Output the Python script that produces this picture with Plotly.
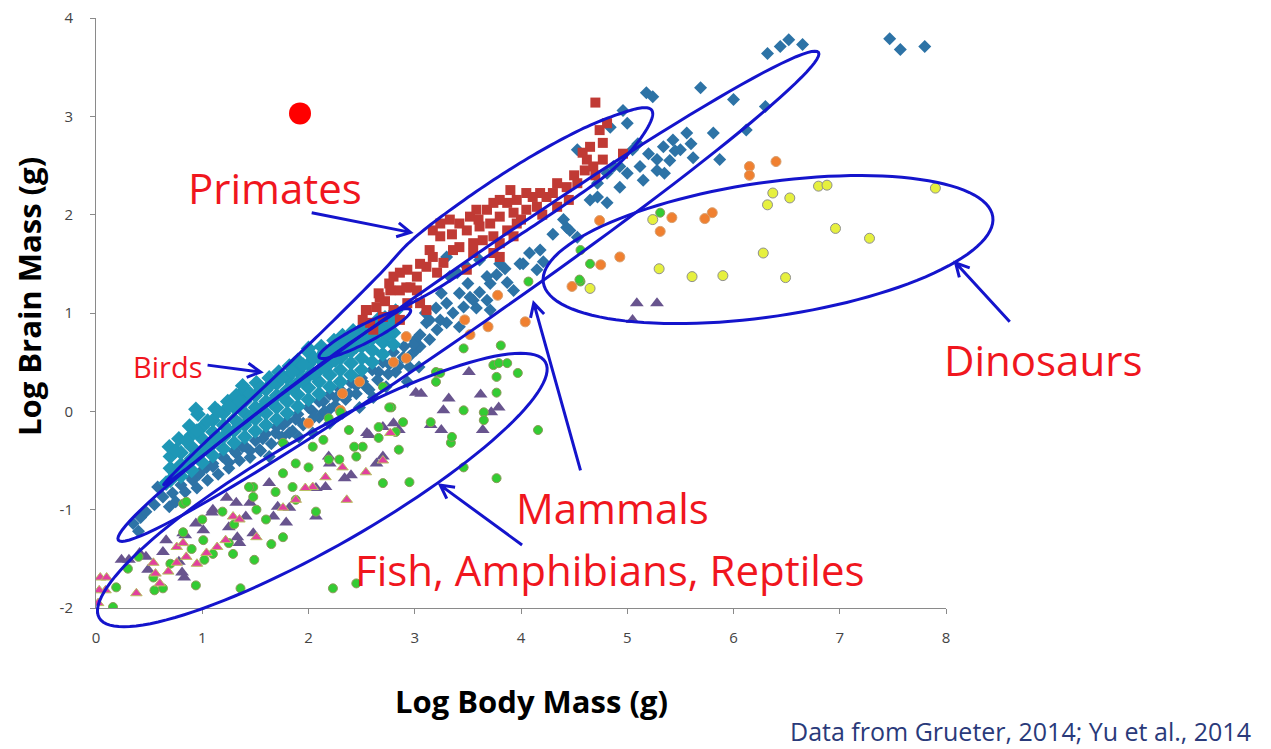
import numpy as np
import plotly.graph_objects as go

# ------------------------------------------------------------------ data
# (log10 body mass g, log10 brain mass g)
mammals = [
    (0.35, -1.14), (0.42, -1.08), (0.47, -1.02), (0.40, -1.22), (0.55, -0.95), (0.58, -0.77),
    (0.63, -0.87), (0.69, -0.97), (0.72, -0.83), (0.75, -0.92), (0.80, -0.75), (0.84, -0.82),
    (0.91, -0.70), (0.97, -0.64), (1.04, -0.57), (1.10, -0.56), (1.19, -0.46), (1.25, -0.52),
    (1.32, -0.43), (1.38, -0.36), (1.45, -0.40), (1.54, -0.39), (1.57, -0.28), (1.63, -0.46),
    (1.69, -0.22), (1.76, -0.14), (1.76, -0.32), (1.82, -0.22), (1.88, -0.08), (1.91, -0.26),
    (1.95, -0.14), (2.04, 0.00), (2.04, -0.22), (2.10, -0.06), (2.14, 0.10), (2.20, 0.02),
    (2.20, -0.12), (2.26, 0.14), (2.32, -0.02), (2.38, 0.18), (2.45, 0.26), (2.48, 0.04),
    (2.51, 0.30), (2.57, 0.22), (2.61, 0.14), (2.66, 0.40), (2.73, 0.25), (2.76, 0.48),
    (2.82, 0.40), (2.89, 0.55), (2.95, 0.45), (3.01, 0.62), (3.04, 0.45), (2.93, 0.30),
    (0.90, -0.68), (1.00, -0.60), (1.10, -0.53), (1.20, -0.46), (1.30, -0.40), (1.40, -0.35),
    (1.50, -0.30), (1.60, -0.23), (1.70, -0.16), (1.80, -0.10), (1.90, -0.03), (2.00, 0.04),
    (2.10, 0.10), (2.20, 0.17), (2.30, 0.22), (2.40, 0.29), (2.50, 0.34), (2.60, 0.42),
    (2.70, 0.50), (2.80, 0.60), (2.90, 0.66), (3.00, 0.72),
    (0.95, -0.78), (1.05, -0.70), (1.15, -0.64), (1.25, -0.58), (1.35, -0.50), (1.45, -0.47),
    (1.55, -0.40), (1.65, -0.33), (1.75, -0.26), (1.85, -0.20), (1.95, -0.12), (2.05, -0.06),
    (2.15, 0.00), (2.25, 0.06), (2.35, 0.12), (2.45, 0.18), (2.55, 0.24), (2.65, 0.32),
    (2.75, 0.38), (2.85, 0.46), (2.95, 0.56), (3.05, 0.66),
    (2.99, 0.68), (3.05, 0.78), (3.14, 0.73), (3.14, 0.93), (3.21, 0.83), (3.30, 0.90),
    (3.42, 0.86), (3.36, 1.00), (3.46, 1.06), (3.52, 1.16), (3.58, 1.05), (3.61, 1.21),
    (3.68, 1.13), (3.71, 1.03), (3.71, 1.30), (3.77, 1.39), (3.87, 1.31), (3.93, 1.23),
    (4.02, 1.50), (4.08, 1.61), (4.18, 1.64), (4.21, 1.52), (4.15, 1.44), (3.99, 1.50),
    (3.80, 1.50), (3.68, 1.37), (3.55, 1.13), (3.42, 1.20), (3.30, 1.10), (3.24, 0.93),
    (3.11, 0.90), (3.61, 1.54), (3.49, 1.47), (3.40, 1.41), (3.30, 1.57), (3.33, 1.37),
    (3.20, 1.05), (3.10, 1.00), (3.25, 1.20), (3.50, 1.30), (3.85, 1.45),
    (4.43, 1.87), (4.40, 1.95), (4.46, 1.84), (4.53, 1.77), (4.30, 1.80), (4.53, 2.66),
    (4.65, 2.15), (4.72, 2.32), (4.81, 2.42), (4.93, 2.49), (5.00, 2.93), (4.84, 2.89),
    (4.96, 3.06), (4.81, 2.12), (4.72, 2.18), (4.93, 2.28), (5.00, 2.42), (5.12, 2.49),
    (5.28, 2.56), (5.34, 2.69), (5.43, 2.76), (5.56, 2.83), (5.50, 2.66), (5.28, 2.45),
    (5.05, 2.66), (4.87, 2.49), (5.15, 2.35), (5.20, 2.62), (5.40, 2.55), (5.62, 2.58),
    (5.35, 2.42), (5.10, 2.72), (5.45, 2.65), (5.60, 2.72),
    (5.81, 2.83), (5.87, 2.56), (6.12, 2.86), (6.00, 3.17), (5.69, 3.29), (5.18, 3.24),
    (5.24, 3.20), (6.30, 3.10), (6.32, 3.64), (6.44, 3.71), (6.52, 3.78), (6.65, 3.73),
    (7.47, 3.79), (7.57, 3.68), (7.80, 3.71),
]

birds = [
    (0.66, -0.73), (0.70, -0.70), (0.70, -0.58), (0.70, -0.46), (0.69, -0.36),
    (0.80, -0.66), (0.80, -0.54), (0.80, -0.42), (0.78, -0.28),
    (0.90, -0.60), (0.90, -0.48), (0.90, -0.36), (0.90, -0.24), (0.88, -0.15),
    (1.00, -0.52), (1.00, -0.40), (1.00, -0.28), (1.00, -0.16), (0.96, -0.03), (0.94, 0.02),
    (1.10, -0.45), (1.10, -0.33), (1.10, -0.21), (1.10, -0.09), (1.12, 0.03),
    (1.20, -0.38), (1.20, -0.26), (1.20, -0.14), (1.20, -0.02), (1.24, 0.10),
    (1.30, -0.32), (1.30, -0.20), (1.30, -0.08), (1.30, 0.04), (1.32, 0.16),
    (1.40, -0.26), (1.40, -0.14), (1.40, -0.02), (1.40, 0.10), (1.40, 0.22), (1.38, 0.26),
    (1.50, -0.20), (1.50, -0.08), (1.50, 0.04), (1.50, 0.16), (1.51, 0.29),
    (1.60, -0.14), (1.60, -0.02), (1.60, 0.10), (1.60, 0.22), (1.63, 0.34),
    (1.70, -0.08), (1.70, 0.04), (1.70, 0.16), (1.70, 0.28), (1.72, 0.40),
    (1.80, -0.02), (1.80, 0.10), (1.80, 0.22), (1.80, 0.34), (1.82, 0.46),
    (1.90, 0.05), (1.90, 0.17), (1.90, 0.29), (1.90, 0.41), (1.90, 0.52),
    (2.00, 0.12), (2.00, 0.24), (2.00, 0.36), (2.00, 0.48), (2.00, 0.60), (2.00, 0.64),
    (2.10, 0.18), (2.10, 0.30), (2.10, 0.42), (2.10, 0.54), (2.12, 0.66),
    (2.20, 0.25), (2.20, 0.37), (2.20, 0.49), (2.20, 0.61), (2.24, 0.72),
    (2.30, 0.30), (2.30, 0.42), (2.30, 0.54), (2.30, 0.66), (2.32, 0.77),
    (2.40, 0.37), (2.40, 0.49), (2.40, 0.61), (2.40, 0.72), (2.42, 0.82),
    (2.50, 0.42), (2.50, 0.54), (2.50, 0.66), (2.50, 0.78), (2.52, 0.86),
    (2.60, 0.50), (2.60, 0.62), (2.60, 0.74), (2.62, 0.88), (2.66, 0.94),
    (2.70, 0.58), (2.70, 0.70), (2.70, 0.82), (2.72, 0.95),
    (2.80, 0.68), (2.80, 0.80), (2.80, 0.92), (2.82, 1.02),
    (0.75, -0.64), (0.85, -0.55), (0.95, -0.45), (1.05, -0.35), (1.15, -0.27), (1.25, -0.20),
    (1.35, -0.13), (1.45, -0.06), (1.55, 0.02), (1.65, 0.09), (1.75, 0.16), (1.85, 0.24),
    (1.95, 0.31), (2.05, 0.38), (2.15, 0.45), (2.25, 0.52), (2.35, 0.60), (2.45, 0.66),
    (2.55, 0.72), (2.65, 0.80), (2.75, 0.88),
    (0.75, -0.40), (0.85, -0.30), (0.95, -0.20), (1.05, -0.10), (1.15, 0.00), (1.25, 0.05),
    (1.35, 0.10), (1.45, 0.18), (1.55, 0.24), (1.65, 0.28), (1.75, 0.34), (1.85, 0.40),
    (1.95, 0.47), (2.05, 0.54), (2.15, 0.60), (2.25, 0.66), (2.35, 0.70), (2.45, 0.76),
    (2.55, 0.80), (2.65, 0.86), (2.75, 0.78),
]

primates = [
    (4.70, 3.14), (4.81, 2.93), (4.74, 2.86), (4.77, 2.73), (4.65, 2.69), (4.58, 2.63),
    (4.62, 2.56), (4.77, 2.56), (4.68, 2.49), (4.60, 2.45), (4.70, 2.40), (4.96, 2.62),
    (4.53, 2.32), (4.43, 2.28), (4.34, 2.32), (4.30, 2.22), (4.34, 2.08), (4.24, 2.18),
    (4.18, 2.22), (4.11, 2.18), (4.05, 2.22), (3.96, 2.15), (3.87, 2.12), (3.80, 2.15),
    (3.74, 2.12), (3.68, 2.05), (3.58, 2.05), (3.52, 1.98), (3.42, 1.91), (3.33, 1.95),
    (3.24, 1.91), (3.17, 1.84), (3.24, 1.78), (3.49, 1.84), (3.61, 1.88), (3.71, 1.91),
    (3.80, 1.98), (3.93, 2.02), (4.05, 2.05), (4.15, 2.08), (3.96, 1.91), (3.87, 1.84),
    (3.74, 1.78), (3.64, 1.74), (3.55, 1.71), (3.80, 1.71), (3.93, 1.78), (3.74, 1.61),
    (3.80, 1.57), (3.55, 1.61), (3.42, 1.67), (3.36, 1.64), (3.49, 1.44), (3.27, 1.51),
    (3.17, 1.57), (3.14, 1.64), (3.11, 1.47), (3.21, 1.41), (3.02, 1.37), (2.93, 1.44),
    (2.86, 1.41), (2.80, 1.37), (2.77, 1.23), (2.86, 1.23), (2.96, 1.26), (3.02, 1.23),
    (2.67, 1.16), (2.72, 1.12), (2.64, 1.06), (2.55, 1.03), (2.51, 0.93), (2.58, 0.90),
    (2.70, 0.96), (2.80, 1.03), (2.93, 1.10), (3.05, 1.10), (3.11, 1.03), (2.86, 0.93),
    (2.61, 0.83), (2.76, 1.30), (2.92, 1.26), (2.66, 1.20), (2.54, 1.03), (4.00, 1.95),
    (4.20, 2.00), (4.45, 2.15), (4.50, 2.40), (3.90, 2.25), (3.60, 1.95), (3.35, 1.80),
    (3.05, 1.50),
]

fish_green = [
    (3.81, 0.67), (3.46, 0.64), (3.74, 0.47), (3.79, 0.49), (3.87, 0.49), (3.97, 0.39),
    (3.77, 0.35), (3.20, 0.30), (3.20, 0.40), (3.77, 0.19), (3.46, 0.01), (3.65, -0.01),
    (3.65, -0.09), (3.15, -0.11), (3.34, -0.32), (3.46, -0.57), (3.77, -0.68), (4.16, -0.19),
    (2.95, -0.72), (2.70, -0.73), (2.78, 0.04), (2.89, -0.11), (2.66, -0.27), (2.85, -0.39),
    (2.82, -0.21), (2.51, -0.36), (2.43, -0.36), (2.45, -0.46), (2.38, -0.19), (2.19, -0.07),
    (2.30, -0.01), (2.04, -0.36), (2.14, -0.29), (2.19, -0.49), (2.29, -0.49), (2.00, -0.57),
    (1.88, -0.53), (1.76, -0.32), (1.76, -0.63), (1.85, -0.77), (1.88, -0.90), (1.69, -0.82),
    (1.48, -0.77), (1.48, -0.87), (1.76, -1.28), (1.51, -1.00), (2.07, -1.02), (1.29, -1.45),
    (1.25, -1.34), (1.19, -1.02), (1.01, -1.31), (0.82, -1.23), (0.82, -0.94), (1.02, -1.51),
    (1.49, -1.51), (0.94, -1.77), (0.63, -1.80), (0.55, -1.82), (0.54, -1.69), (0.19, -1.79),
    (0.16, -1.99), (0.40, -1.48), (2.23, -1.80), (2.45, -1.75), (1.36, -1.80), (4.07, 1.32),
    (4.56, 1.32), (3.24, 0.39), (3.35, -0.26), (4.65, 1.50), (4.55, 1.34), (4.56, 1.64),
    (5.31, 2.02), (2.70, 0.25), (2.76, 0.04), (1.44, -0.77), (0.85, -0.92), (2.66, -0.16),
    (1.10, -1.45), (1.30, -1.15), (1.60, -1.10), (1.00, -1.10), (0.70, -1.55), (0.30, -1.60),
    (0.90, -1.40), (1.65, -1.35),
]

amphib_purple = [
    (3.51, 0.40), (3.32, 0.13), (3.62, 0.17), (3.79, 0.04), (3.72, -0.01), (3.27, 0.01),
    (3.01, 0.19), (3.64, -0.19), (3.25, -0.19), (3.15, -0.14), (2.85, -0.19), (2.70, -0.16),
    (2.57, -0.24), (2.70, -0.46), (2.64, -0.53), (2.40, -0.65), (2.19, -0.46), (2.16, -0.77),
    (2.07, -0.78), (2.07, -1.07), (1.82, -0.98), (1.71, -0.97), (1.79, -1.13), (1.63, -0.73),
    (1.32, -0.93), (1.41, -1.07), (1.25, -1.18), (1.10, -1.00), (0.94, -1.14), (1.01, -1.21),
    (0.82, -1.24), (0.66, -1.31), (0.78, -1.53), (0.63, -1.43), (0.47, -1.48), (0.31, -1.51),
    (0.24, -1.51), (0.83, -1.69), (1.35, -1.34), (0.49, -1.61), (5.09, 1.10), (5.28, 1.10),
    (5.05, 0.93), (0.41, -1.44), (0.84, -1.26), (0.81, -1.64), (1.09, -1.03), (1.23, -0.88),
    (1.45, -0.93), (1.67, -1.07), (2.20, -0.53), (2.55, -0.22), (2.80, -0.12), (2.34, -0.68),
    (1.48, -1.24), (1.33, -1.28), (3.06, 0.18),
]

reptile_pink = [
    (0.04, -1.69), (0.02, -1.95), (0.10, -1.69), (0.38, -1.85), (0.76, -1.38), (0.85, -1.48),
    (1.04, -1.44), (1.14, -1.38), (1.29, -1.07), (1.51, -1.28), (2.04, -0.77), (2.36, -0.90),
    (2.77, -0.22), (1.97, -0.78), (0.76, -1.54), (0.54, -1.54), (2.70, -0.50), (0.09, -1.82),
    (0.03, -1.82), (0.56, -1.65), (0.68, -1.63), (0.82, -1.34), (1.22, -1.31), (1.35, -1.10),
    (1.76, -0.98), (2.16, -0.67), (2.32, -0.57), (2.54, -0.62), (1.88, -0.90), (0.95, -1.55),
    (0.60, -1.75),
]

other_orange = [
    (6.40, 2.54), (6.15, 2.49), (6.15, 2.40), (5.80, 2.02), (5.73, 1.96), (5.42, 1.97),
    (5.31, 1.83), (4.74, 1.94), (4.93, 1.57), (4.75, 1.49), (4.48, 1.27), (4.04, 0.91),
    (2.92, 0.76), (2.92, 0.54), (2.80, 0.50), (2.48, 0.30), (2.32, 0.18), (2.30, 0.01),
    (2.00, -0.12), (3.78, 1.18), (3.47, 0.93), (3.69, 0.86), (3.52, 0.78),
]

dinosaurs = [
    (6.37, 2.22), (6.53, 2.17), (6.32, 2.10), (6.80, 2.29), (6.88, 2.30), (7.90, 2.27),
    (6.96, 1.86), (7.28, 1.76), (6.28, 1.61), (6.49, 1.36), (5.90, 1.38), (5.61, 1.37),
    (5.30, 1.45), (5.24, 1.95), (4.65, 1.25),
]

human = [(1.92, 3.03)]

x_ticks = [0, 1, 2, 3, 4, 5, 6, 7, 8]
y_ticks = [-2, -1, 0, 1, 2, 3, 4]
y_tick_text = ["-2", "-1", "0", "1", "2", "3", "4"]

# hand-drawn group outlines
birds_primates_outline = [
    (0.640, -0.739), (0.932, -0.414), (1.261, -0.078), (1.732, 0.400), (2.202, 0.888),
    (2.673, 1.397), (2.974, 1.742), (3.426, 2.119), (3.991, 2.525), (4.555, 2.861),
    (4.979, 3.044), (5.195, 3.085), (5.233, 2.983), (5.101, 2.739), (4.838, 2.434),
    (4.367, 2.068), (3.802, 1.661), (3.238, 1.264), (2.861, 1.030), (2.296, 0.624),
    (1.732, 0.166), (1.167, -0.312), (0.809, -0.617),
]
# ellipses: (tip, tip) in data units, half-width in px
ellipses = [
    ((2.10, 0.55), (2.96, 1.03), 9),      # small loop
    ((0.21, -1.31), (6.80, 3.65), 30),    # mammals
    ((0.03, -2.10), (4.23, 0.50), 56),    # fish / amphibians / reptiles
    ((4.21, 1.31), (8.44, 1.98), 67),     # dinosaurs
]
# arrows: (from, to) in data units
arrows = [
    ((2.03, 2.02), (2.96, 1.82)),
    ((1.05, 0.47), (1.55, 0.40)),
    ((4.56, -0.60), (4.12, 1.10)),
    ((4.01, -1.36), (3.24, -0.75)),
    ((8.60, 0.91), (8.09, 1.51)),
]

# ------------------------------------------------------------------ layout
PAGE_DX, PAGE_DY = 8, 8             # page offset of the plot div
W, H = 1271 - PAGE_DX, 749 - PAGE_DY
ML, MR, MT, MB = 88, 325, 10, 141
PW, PH = W - ML - MR, H - MT - MB
ORIGIN_X = PAGE_DX + ML             # screen x of plot left
BOTTOM_Y = PAGE_DY + H - MB         # screen y of plot bottom
XR, YR = (0, 8), (-2, 4)
BLUE = "#1414cc"
RED = "#f0161e"
FONT = "Open Sans"


def to_px(x, y):
    return ((x - XR[0]) / (XR[1] - XR[0]) * PW, (y - YR[0]) / (YR[1] - YR[0]) * PH)


def pp(x, y):
    return f"{x / PW:.5f},{y / PH:.5f}"


def ellipse_path(p1, p2, b, n=120):
    x1, y1 = to_px(*p1)
    x2, y2 = to_px(*p2)
    cx, cy = (x1 + x2) / 2, (y1 + y2) / 2
    a = np.hypot(x2 - x1, y2 - y1) / 2
    th = np.arctan2(y2 - y1, x2 - x1)
    t = np.linspace(0, 2 * np.pi, n, endpoint=False)
    ex = cx + a * np.cos(t) * np.cos(th) - b * np.sin(t) * np.sin(th)
    ey = cy + a * np.cos(t) * np.sin(th) + b * np.sin(t) * np.cos(th)
    return "M " + " L ".join(pp(x, y) for x, y in zip(ex, ey)) + " Z"


def closed_spline_path(anchors, steps=14):
    P = [np.array(to_px(*a)) for a in anchors]
    n = len(P)
    out = []
    for i in range(n):
        p0, p1, p2, p3 = P[i - 1], P[i], P[(i + 1) % n], P[(i + 2) % n]
        for k in range(steps):
            t = k / steps
            q = 0.5 * ((2 * p1) + (-p0 + p2) * t + (2 * p0 - 5 * p1 + 4 * p2 - p3) * t * t
                       + (-p0 + 3 * p1 - 3 * p2 + p3) * t ** 3)
            out.append(q)
    return "M " + " L ".join(pp(q[0], q[1]) for q in out) + " Z"


def arrow_path(p_from, p_to, head=15, ang=28):
    x1, y1 = to_px(*p_from)
    x2, y2 = to_px(*p_to)
    d = np.array([x2 - x1, y2 - y1])
    d = d / np.linalg.norm(d)
    hs = []
    for s in (1, -1):
        a = np.radians(s * ang)
        r = (d[0] * np.cos(a) - d[1] * np.sin(a), d[0] * np.sin(a) + d[1] * np.cos(a))
        hs.append((x2 - head * r[0], y2 - head * r[1]))
    return f"M {pp(x1, y1)} L {pp(x2, y2)} M {pp(*hs[0])} L {pp(x2, y2)} L {pp(*hs[1])}"


def sx(px):
    return (px - ORIGIN_X) / PW


def sy(py):
    return (BOTTOM_Y - py) / PH


fig = go.Figure()


def add(points, symbol, size, color, line_color=None, line_width=0):
    xs, ys = zip(*points)
    fig.add_trace(go.Scatter(
        x=list(xs), y=list(ys), mode="markers", hoverinfo="skip",
        marker=dict(symbol=symbol, size=size, color=color,
                    line=dict(color=line_color or color, width=line_width)),
    ))


add(mammals, "diamond", 10, "#2d73a6")
add(birds, "diamond", 12, "#1e97b6")
add(primates, "square", 10, "#c03a34")
add(other_orange, "circle", 10, "#f08030", "#d8a070", 1)
add(amphib_purple, "triangle-up", 12, "#68548e")
add(fish_green, "circle", 9, "#33cc33", "#8c9a5a", 1)
add(reptile_pink, "triangle-up", 10, "#e2409e", "#b8c060", 1)
add(dinosaurs, "circle", 10, "#e6f03e", "#8f8f8f", 1)
add(human, "circle", 22, "#ff0000")

line_style = dict(color=BLUE, width=3)
shapes = [dict(type="path", xref="paper", yref="paper", layer="above", line=line_style,
               path=closed_spline_path(birds_primates_outline))]
for p1, p2, b in ellipses:
    shapes.append(dict(type="path", xref="paper", yref="paper", layer="above",
                       line=line_style, path=ellipse_path(p1, p2, b)))
for p1, p2 in arrows:
    shapes.append(dict(type="path", xref="paper", yref="paper", layer="above",
                       line=line_style, path=arrow_path(p1, p2)))

labels = [
    ("Primates", 275, 187, 42, RED, 0),
    ("Birds", 167, 366, 29, RED, 0),
    ("Dinosaurs", 1043, 359, 42, RED, 0),
    ("Mammals", 612, 507, 42, RED, 0),
    ("Fish, Amphibians, Reptiles", 610, 569, 42, RED, 0),
    ("Data from Grueter, 2014; Yu et al., 2014", 1021, 731, 25, "#2a3a7a", 0),
    ("<b>Log Body Mass (g)</b>", 531, 701, 31, "#000000", 0),
    ("<b>Log Brain Mass (g)</b>", 29, 297, 31, "#000000", -90),
]
annotations = [
    dict(text=t, x=sx(px), y=sy(py), xref="paper", yref="paper", showarrow=False,
         xanchor="center", yanchor="middle", textangle=ang, borderpad=0,
         font=dict(family=FONT, size=s, color=c))
    for t, px, py, s, c, ang in labels
]

axis_common = dict(showline=True, linecolor="#8a8a8a", linewidth=1, ticks="outside",
                   ticklen=5, tickcolor="#8a8a8a", showgrid=False, zeroline=False,
                   ticklabeloverflow="allow", automargin=False,
                   tickfont=dict(family=FONT, size=15, color="#444444"), fixedrange=True)

fig.update_layout(
    width=W, height=H, autosize=False,
    margin=dict(l=ML, r=MR, t=MT, b=MB, pad=0, autoexpand=False),
    paper_bgcolor="white", plot_bgcolor="white",
    showlegend=False,
    xaxis=dict(range=list(XR), tickmode="array", tickvals=x_ticks,
               ticklabelstandoff=11, **axis_common),
    yaxis=dict(range=list(YR), tickmode="array", tickvals=y_ticks, ticktext=y_tick_text,
               ticklabelstandoff=14, **axis_common),
    shapes=shapes,
    annotations=annotations,
)

fig.write_html("out.html")
